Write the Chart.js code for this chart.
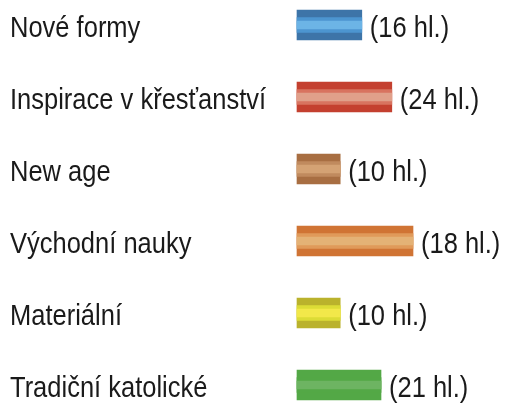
<!DOCTYPE html>
<html>
<head>
<meta charset="utf-8">
<script src="https://cdn.jsdelivr.net/npm/chart.js@4"></script>
<style>
  html, body { margin: 0; padding: 0; background: #fff; }
  #wrap { width: 505px; height: 403px; }
</style>
</head>
<body>
<div id="wrap"><canvas id="chart"></canvas></div>
<script>
// Data
const categories = ['Nové formy', 'Inspirace v křesťanství', 'New age', 'Východní nauky', 'Materiální', 'Tradiční katolické'];
const hours = [16, 24, 10, 18, 10, 21];              // printed values (hl.)
const barLength = [16.2, 23.7, 10.8, 29, 10.8, 21];  // drawn bar length as seen

// Colours per bar: outer, middle band, centre band
const darkColors = ['#3d74a8', '#c4402f', '#a86e42', '#d07434', '#bab22c', '#53a846'];
const midColors = ['#4c95d0', '#d8735f', '#c08a5e', '#e09a5a', '#dcdc36', '#53a846'];
const lightColors = ['#6cb4e6', '#e0a08a', '#d4a274', '#e4b276', '#f2e84a', '#6db462'];

// condensed look: Liberation Sans squeezed horizontally
const FONT = '30px "Liberation Sans", Arial, sans-serif';
const SQUEEZE = 0.85;

function narrowText(ctx, text, x, y) {
    ctx.save();
    ctx.translate(x, y);
    ctx.scale(SQUEEZE, 1);
    ctx.fillText(text, 0, 0);
    ctx.restore();
}

// Category names on the left and "(16 hl.)" after each bar
const textLabels = {
    id: 'textLabels',
    afterDatasetsDraw(chart) {
        const ctx = chart.ctx;
        const yScale = chart.scales.y;
        const meta = chart.getDatasetMeta(2);
        ctx.save();
        ctx.font = FONT;
        ctx.fillStyle = '#1a1a1a';
        ctx.textAlign = 'left';
        ctx.textBaseline = 'middle';
        categories.forEach((name, i) => {
            const y = yScale.getPixelForValue(i) + 4;
            narrowText(ctx, name, 10, y);
            narrowText(ctx, '(' + hours[i] + ' hl.)', meta.data[i].x + 8, y);
        });
        ctx.restore();
    }
};

const common = { grouped: false, borderWidth: 0, clip: false, data: barLength };

new Chart(document.getElementById('chart').getContext('2d'), {
    type: 'bar',
    data: {
        labels: categories,
        datasets: [
            Object.assign({ backgroundColor: lightColors, barThickness: 8 }, common),
            Object.assign({ backgroundColor: midColors, barThickness: 15 }, common),
            Object.assign({ backgroundColor: darkColors, barThickness: 30 }, common)
        ]
    },
    options: {
        indexAxis: 'y',
        responsive: true,
        maintainAspectRatio: false,
        animation: false,
        layout: { padding: { left: 10, right: 0, top: 25, bottom: 18 } },
        plugins: {
            legend: { display: false },
            tooltip: { enabled: false }
        },
        scales: {
            x: { display: false, min: 0, max: 52 },
            y: {
                offset: false,
                grid: { display: false },
                border: { display: false },
                ticks: { display: false },
                afterFit(scale) { scale.width = 287; }
            }
        }
    },
    plugins: [textLabels]
});
</script>
</body>
</html>
